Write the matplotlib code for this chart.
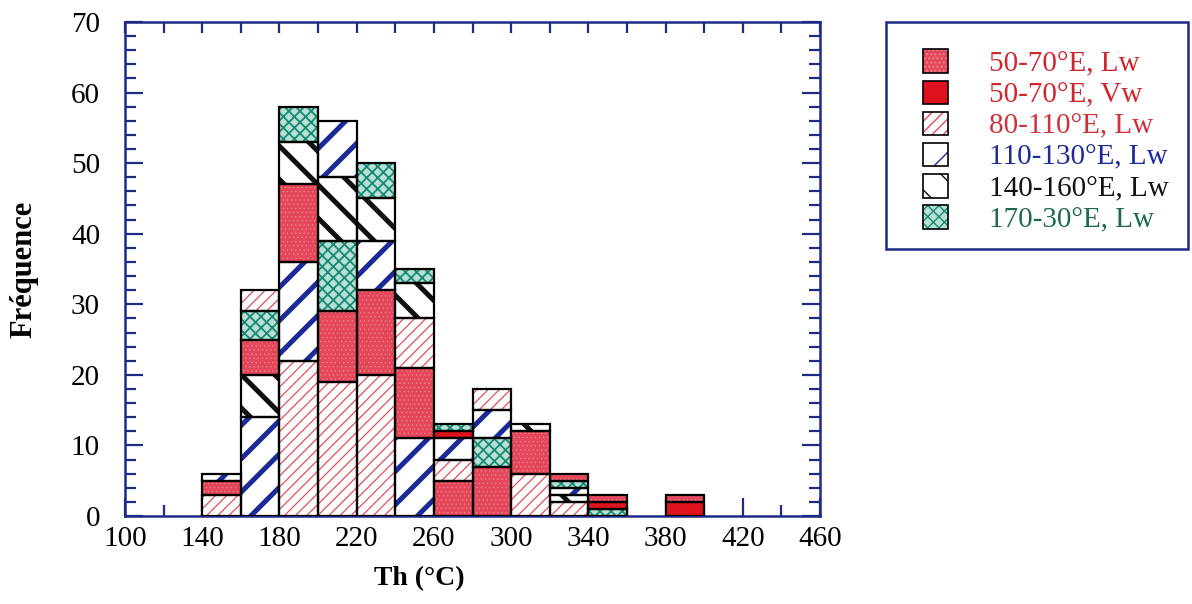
import matplotlib
matplotlib.use('Agg')
import matplotlib.pyplot as plt
from matplotlib.patches import Rectangle, Patch
from matplotlib.legend_handler import HandlerTuple

# ---------------- data ----------------
bin_left = [140, 160, 180, 200, 220, 240, 260, 280, 300, 320, 340, 360, 380]
bin_width = 20
series_labels = ['50-70°E, Lw', '50-70°E, Vw', '80-110°E, Lw',
                 '110-130°E, Lw', '140-160°E, Lw', '170-30°E, Lw']
lw_50_70   = [2, 5, 11, 10, 12, 10, 5, 7, 6, 1, 1, 0, 1]
vw_50_70   = [0, 0, 0, 0, 0, 0, 1, 0, 0, 0, 1, 0, 2]
lw_80_110  = [3, 3, 22, 19, 20, 7, 3, 3, 6, 2, 0, 0, 0]
lw_110_130 = [1, 14, 14, 8, 7, 11, 3, 4, 0, 1, 0, 0, 0]
lw_140_160 = [0, 6, 6, 9, 6, 5, 0, 0, 1, 1, 0, 0, 0]
lw_170_30  = [0, 4, 5, 10, 5, 2, 1, 4, 0, 1, 1, 0, 0]
# stacking order (bottom to top) of the series inside each bin
stack_order = [[2, 0, 3], [3, 4, 0, 5, 2], [2, 3, 0, 4, 5], [2, 0, 5, 4, 3],
               [2, 0, 3, 4, 5], [3, 0, 2, 4, 5], [0, 2, 3, 1, 5], [0, 5, 3, 2],
               [2, 0, 4], [2, 4, 3, 5, 0], [5, 1, 0], [], [1, 0]]
x_ticks = [100, 140, 180, 220, 260, 300, 340, 380, 420, 460]
y_ticks = [0, 10, 20, 30, 40, 50, 60, 70]

series = [lw_50_70, vw_50_70, lw_80_110, lw_110_130, lw_140_160, lw_170_30]

# ---------------- styles ----------------
plt.rcParams['font.family'] = ['Liberation Serif', 'DejaVu Serif']
NAVY = '#1d2a86'
styles = [
    dict(face='#e4475a', hatch='....', hcolor='#f0808c', hlw=0.5),
    dict(face='#e0121e', hatch=None, hcolor='#e0121e', hlw=0.5),
    dict(face='white', hatch='///', hcolor='#e0505c', hlw=0.9),
    dict(face='white', hatch='/', hcolor='#1c2a9a', hlw=3.6),
    dict(face='white', hatch='\\', hcolor='#111111', hlw=3.6),
    dict(face='#b8e0d4', hatch='xxx', hcolor='#178a74', hlw=1.3),
]
text_colors = ['#d0252f', '#d0252f', '#d0303a', '#1d2a9a', '#111111', '#1f6a4e']

fig = plt.figure(figsize=(11.92, 6.04), dpi=100)
ax = fig.add_axes([125 / 1192, 1 - 516 / 604, (820 - 125) / 1192, (516 - 22) / 604])


def fill_bar(x, h, b, st):
    with plt.rc_context({'hatch.linewidth': st['hlw']}):
        ax.bar(x, h, width=bin_width, bottom=b, align='edge',
               facecolor=st['face'], hatch=st['hatch'], edgecolor=st['hcolor'],
               linewidth=0, zorder=2)
    ax.bar(x, h, width=bin_width, bottom=b, align='edge', fill=False,
           edgecolor='black', linewidth=1.6, zorder=3)


for i, x in enumerate(bin_left):
    bottom = 0
    for k in stack_order[i]:
        v = series[k][i]
        if v > 0:
            fill_bar(x, v, bottom, styles[k])
            bottom += v

ax.set_xlim(100, 460)
ax.set_ylim(0, 70)
ax.set_xticks(x_ticks)
ax.set_xticks(range(120, 460, 40), minor=True)
ax.set_yticks(y_ticks)
ax.set_yticks(range(0, 71, 2), minor=True)
ax.tick_params(which='both', direction='in', top=True, right=True,
               color=NAVY, width=1.6, labelsize=21)
ax.tick_params(which='major', length=13)
ax.tick_params(which='minor', length=8)
ax.tick_params(axis='y', which='major', pad=18)
ax.tick_params(axis='x', which='major', pad=7)
for t in ax.xaxis.get_major_ticks() + ax.xaxis.get_minor_ticks():
    t.tick2line.set_markersize(8)
for s in ax.spines.values():
    s.set_color(NAVY)
    s.set_linewidth(1.8)

ax.set_xlabel('Th (°C)', fontsize=20, fontweight='bold')
ax.xaxis.set_label_coords(0.424, -0.102)
ax.set_ylabel('Fréquence', fontsize=22, fontweight='bold')
ax.yaxis.set_label_coords(-0.124, 0.5)

# ---------------- legend ----------------
handles = []
for st in styles:
    with plt.rc_context({'hatch.linewidth': min(st['hlw'], 2.0)}):
        hp = Patch(facecolor=st['face'], hatch=st['hatch'], edgecolor=st['hcolor'], linewidth=0)
    op = Patch(fill=False, edgecolor='black', linewidth=1.2)
    handles.append((hp, op))

fig.patches.append(Rectangle((886 / 1192, 1 - 249 / 604), (1188 - 886) / 1192, (249 - 22) / 604,
                             transform=fig.transFigure, fill=False, edgecolor=NAVY,
                             linewidth=1.8))
leg = fig.legend(handles, series_labels, loc='upper left',
                 bbox_to_anchor=(900 / 1192, 1 - 26 / 604),
                 frameon=False, fontsize=21, labelcolor=text_colors,
                 handler_map={tuple: HandlerTuple(ndivide=1, pad=0)},
                 handlelength=0.85, handleheight=0.85, handletextpad=1.4,
                 labelspacing=0.12, borderpad=0.3)

fig.savefig('out.png', dpi=100)
